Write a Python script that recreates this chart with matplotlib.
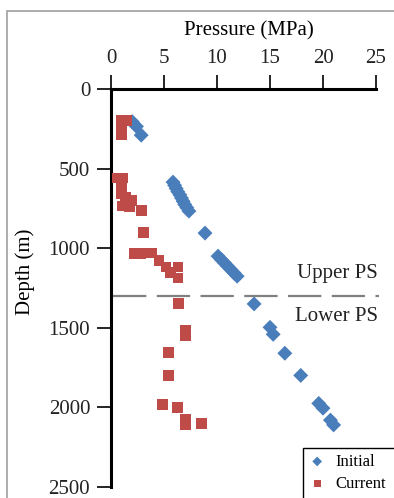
import matplotlib
matplotlib.use("Agg")
import matplotlib.pyplot as plt
from matplotlib.patches import Rectangle

# Pressure profiles versus depth
initial_pressure = [2.0, 2.4, 2.85,
                    5.85, 6.0, 6.15, 6.3, 6.5, 6.65, 6.8, 6.95, 7.15, 7.35,
                    8.87,
                    10.1, 10.4, 10.7, 11.0, 11.3, 11.6, 11.9,
                    13.5, 15.0, 15.3, 16.4, 17.9, 19.6, 20.0, 20.7, 21.0]
initial_depth = [205, 235, 290,
                 585, 605, 625, 645, 665, 685, 705, 725, 745, 767,
                 905,
                 1050, 1071, 1092, 1113, 1134, 1155, 1176,
                 1350, 1497, 1541, 1660, 1799, 1975, 2005, 2080, 2110]

current_pressure = [0.99, 1.51, 0.99, 0.99,
                    0.6, 1.1, 0.95, 0.95, 1.4, 1.9, 1.05, 1.75, 2.92, 3.1,
                    2.26, 2.74, 3.49, 3.87, 4.53, 5.19, 5.57, 6.32, 6.32,
                    6.4, 7.0, 7.0, 5.4, 5.4, 4.9, 6.3, 7.0, 7.0, 8.5]
current_depth = [195, 195, 245, 289,
                 559, 559, 610, 655, 680, 700, 735, 741, 766, 900,
                 1036, 1036, 1030, 1030, 1080, 1118, 1150, 1118, 1187,
                 1346, 1515, 1547, 1654, 1800, 1981, 2000, 2075, 2107, 2100]

x_ticks = [0, 5, 10, 15, 20, 25]
y_ticks = [0, 500, 1000, 1500, 2000, 2500]
boundary_depth = 1300
zone_labels = ["Upper PS", "Lower PS"]

plt.rcParams['font.family'] = ['Liberation Serif', 'DejaVu Serif']
plt.rcParams['lines.scale_dashes'] = False

W, H = 394, 498
fig = plt.figure(figsize=(W / 100, H / 100), dpi=100)
fig.patch.set_facecolor('white')

# thin grey frame around the figure
fig.patches.append(Rectangle((7 / W, -0.2), 1.2, 1 - 11 / H + 0.2,
                             transform=fig.transFigure, fill=False,
                             edgecolor='#a0a0a0', linewidth=1.2))

ax = fig.add_axes([111 / W, 1 - 487 / H, 265 / W, 398 / H])
ax.set_xlim(0, 25)
ax.set_ylim(2500, 0)
ax.set_facecolor('none')

ax.xaxis.tick_top()
ax.set_xticks(x_ticks)
ax.set_yticks(y_ticks)
ax.set_xticklabels([str(v) for v in x_ticks])
ax.set_yticklabels([str(v) for v in y_ticks])

for side in ('right', 'bottom'):
    ax.spines[side].set_visible(False)
for side in ('left', 'top'):
    ax.spines[side].set_linewidth(2.2)
    ax.spines[side].set_color('black')

ax.tick_params(axis='x', direction='out', length=10, width=1.2, pad=5,
               labelsize=15, labelcolor='#222222', top=True, bottom=False)
ax.tick_params(axis='y', direction='out', length=10, width=1.2, pad=5,
               labelsize=15, labelcolor='#222222')

# boundary between upper and lower pressure systems
ax.plot([0.2, 25.3], [boundary_depth, boundary_depth], color='#808080',
        linewidth=1.6, dashes=(24, 7.5), clip_on=False, zorder=2)
ax.text(25.2, 1162, zone_labels[0], ha='right', va='center', fontsize=15,
        color='#222222', clip_on=False)
ax.text(25.2, 1432, zone_labels[1], ha='right', va='center', fontsize=15,
        color='#222222', clip_on=False)

ax.scatter(initial_pressure, initial_depth, marker='D', s=58, color='#4A7EBB',
           edgecolors='none', label='Initial', zorder=3, clip_on=False)
ax.scatter(current_pressure, current_depth, marker='s', s=62, color='#BE4B48',
           edgecolors='none', label='Current', zorder=3, clip_on=False)

fig.text(249 / W, 1 - 31 / H, 'Pressure (MPa)', ha='center', va='center',
         fontsize=15, color='black')
fig.text(25 / W, 1 - 272 / H, 'Depth (m)', ha='center', va='center',
         rotation=90, fontsize=15, color='black')

# legend box running off the lower right corner
box = Rectangle((303 / W, -0.1), 0.3, 0.1 + 1 - 448 / H,
                transform=fig.transFigure, facecolor='white',
                edgecolor='black', linewidth=1.0, zorder=4, clip_on=False)
ax.add_patch(box)
leg = ax.legend(loc='upper left', bbox_to_anchor=(303 / W, 1 - 448 / H),
                bbox_transform=fig.transFigure, borderaxespad=0,
                fontsize=12, frameon=False, handlelength=1.0,
                handletextpad=0.6, borderpad=0.35, labelspacing=0.35,
                markerscale=0.65)
leg.set_zorder(5)

fig.savefig('out.png', dpi=100)
